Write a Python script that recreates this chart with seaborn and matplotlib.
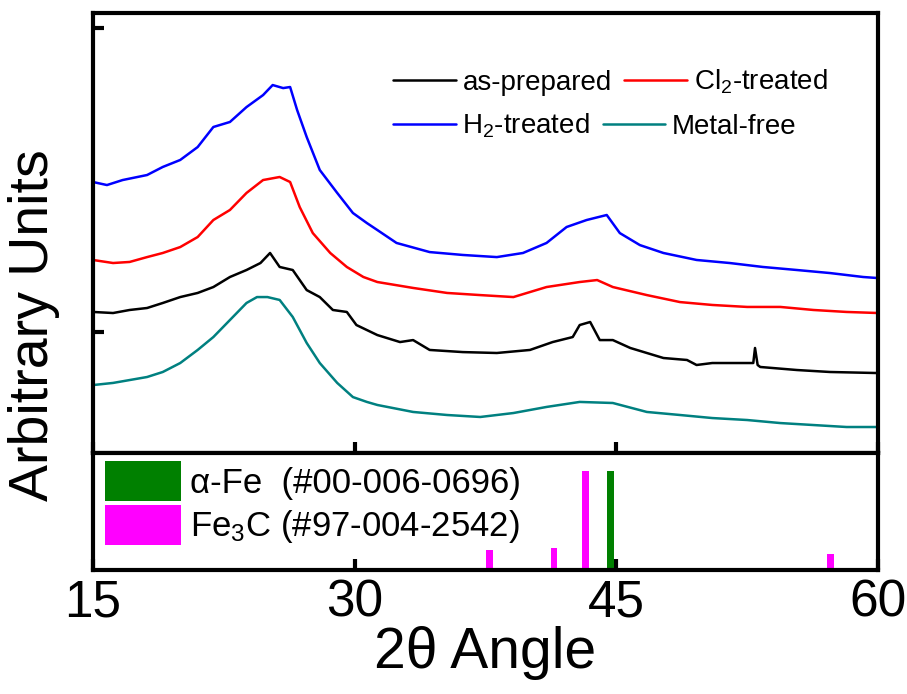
import matplotlib
matplotlib.use("Agg")
import numpy as np
import pandas as pd
import matplotlib.pyplot as plt
import seaborn as sns
from matplotlib.lines import Line2D
from matplotlib.patches import Patch

# ---------------- data ----------------
tt_as_prepared = [15.0, 16.15, 17.1, 18.1, 19.0, 20.0, 21.0, 21.9, 22.85, 23.8, 24.6, 25.15, 25.7,
                  26.45, 27.25, 28.0, 28.75, 29.55, 30.1, 30.7, 31.3, 32.6, 33.35, 34.3, 36.2,
                  38.15, 40.05, 41.35, 42.5, 42.9, 43.5, 44.05, 44.8, 45.8, 46.75, 47.7, 49.05,
                  49.6, 50.5, 52.1, 52.85, 52.95, 53.1, 53.25, 55.35, 57.25, 60.0]
int_as_prepared = [1132, 1125, 1145, 1158, 1191, 1230, 1257, 1296, 1362, 1408, 1454, 1520, 1428,
                   1408, 1276, 1230, 1145, 1132, 1046, 1013, 980, 934, 947, 882, 868,
                   862, 882, 934, 967, 1046, 1066, 947, 947, 895, 862, 829, 816,
                   783, 796, 796, 796, 895, 783, 770, 750, 737, 730]

tt_cl2 = [15.0, 16.15, 17.1, 18.1, 19.0, 20.0, 21.0, 21.9, 22.85, 23.8, 24.75, 25.7, 26.3, 26.85,
          27.6, 28.6, 29.55, 30.5, 31.3, 33.35, 35.3, 37.2, 39.1, 41.0, 42.9, 43.9, 44.8, 46.75,
          48.65, 50.5, 52.5, 54.4, 56.3, 58.2, 60.0]
int_cl2 = [1474, 1454, 1461, 1493, 1520, 1559, 1625, 1737, 1803, 1915, 2000, 2020, 1987, 1822,
           1651, 1520, 1428, 1362, 1329, 1290, 1257, 1243, 1230, 1296, 1329, 1342, 1296, 1243,
           1197, 1178, 1165, 1165, 1145, 1132, 1125]

tt_h2 = [15.0, 15.8, 16.7, 18.1, 19.0, 20.0, 21.0, 21.9, 22.85, 23.8, 24.75, 25.3, 25.9, 26.3,
         26.7, 27.25, 28.0, 29.0, 29.9, 30.7, 31.3, 32.4, 34.3, 36.2, 38.15, 39.65, 41.0, 42.15,
         43.3, 44.45, 45.2, 46.35, 47.7, 49.6, 51.5, 53.4, 55.35, 57.25, 59.15, 60.0]
int_h2 = [1987, 1967, 2000, 2033, 2086, 2132, 2217, 2349, 2382, 2480, 2559, 2625, 2605, 2612,
          2461, 2283, 2066, 1915, 1783, 1717, 1671, 1586, 1526, 1507, 1493, 1520, 1586, 1691,
          1737, 1770, 1651, 1572, 1520, 1474, 1454, 1428, 1408, 1388, 1362, 1355]

tt_metal_free = [15.0, 16.15, 18.1, 19.0, 20.0, 21.0, 21.9, 22.85, 23.8, 24.4, 25.0, 25.7, 26.45,
                 27.25, 28.0, 29.0, 29.9, 30.7, 31.3, 33.35, 35.3, 37.2, 39.1, 41.0, 42.9, 44.8,
                 46.75, 48.65, 50.5, 52.5, 54.4, 56.3, 58.2, 60.0]
int_metal_free = [651, 665, 704, 737, 796, 882, 967, 1079, 1191, 1230, 1230, 1211, 1099,
                  928, 796, 665, 572, 540, 520, 474, 454, 441, 467, 507, 540, 533,
                  474, 454, 434, 421, 401, 388, 375, 375]

sample_names = ["as-prepared", "Cl$_2$-treated", "H$_2$-treated", "Metal-free"]
sample_colors = ["#000000", "#FF0000", "#0000FF", "#008080"]

fe_positions = [44.68]
fe_intensity = [100]
fe3c_positions = [29.73, 37.72, 41.43, 43.24, 57.29]
fe3c_intensity = [2, 20, 22, 100, 16]
ref_labels = ["\u03b1-Fe  (#00-006-0696)", "Fe$_3$C (#97-004-2542)"]
ref_colors = ["#008000", "#FF00FF"]

x_ticks = [15, 30, 45, 60]

# ---------------- style ----------------
sns.set_theme(style="ticks")
plt.rcParams["font.family"] = ["Liberation Sans", "DejaVu Sans"]
plt.rcParams["text.color"] = "black"
plt.rcParams["axes.labelcolor"] = "black"
plt.rcParams["xtick.color"] = "black"
plt.rcParams["ytick.color"] = "black"
plt.rcParams["axes.edgecolor"] = "black"
plt.rcParams["mathtext.fontset"] = "custom"
plt.rcParams["mathtext.rm"] = "Liberation Sans"
plt.rcParams["mathtext.it"] = "Liberation Sans:italic"
plt.rcParams["mathtext.bf"] = "Liberation Sans:bold"

W, H = 907, 694
fig = plt.figure(figsize=(W / 100, H / 100), dpi=100)
fig.patch.set_facecolor("white")

def fx(px):
    return px / W

def fy(py):
    return (H - py) / H

ax_top = fig.add_axes([fx(93), fy(453), fx(878) - fx(93), fy(13) - fy(453)])
ax_bot = fig.add_axes([fx(93), fy(570), fx(878) - fx(93), fy(453) - fy(570)], sharex=ax_top)

# ---------------- top panel: XRD patterns ----------------
frames = []
for name, tt, it in [(sample_names[0], tt_as_prepared, int_as_prepared),
                     (sample_names[1], tt_cl2, int_cl2),
                     (sample_names[2], tt_h2, int_h2),
                     (sample_names[3], tt_metal_free, int_metal_free)]:
    frames.append(pd.DataFrame({"two_theta": tt, "intensity": it, "sample": name}))
df = pd.concat(frames, ignore_index=True)

sns.lineplot(data=df, x="two_theta", y="intensity", hue="sample",
             hue_order=sample_names, palette=sample_colors, estimator=None,
             sort=False, linewidth=1.8, legend=False, ax=ax_top)

ax_top.set_xlim(15, 60)
ax_top.set_ylim(204, 3099)
ax_top.set_yticks([1000, 3000])
ax_top.set_xticks([30, 45])
ax_top.tick_params(axis="both", direction="in", length=8, width=3, color="black",
                   labelleft=False, labelbottom=False)
ax_top.set_xlabel("")
ax_top.set_ylabel("")

handles = [Line2D([0], [0], color=c, lw=1.8) for c in sample_colors]
leg_kw = dict(frameon=False, ncol=2, fontsize=20, handlelength=2.25,
              handletextpad=0.25, columnspacing=0.45, borderpad=0, borderaxespad=0,
              loc="center left", labelcolor="black")
leg1 = ax_top.legend(handles[:2], sample_names[:2],
                     bbox_to_anchor=((393 - 93) / 785, (453 - 82) / 440), **leg_kw)
ax_top.add_artist(leg1)
leg2 = ax_top.legend(handles[2:], sample_names[2:],
                     bbox_to_anchor=((393 - 93) / 785, (453 - 126) / 440), **leg_kw)

# ---------------- bottom panel: reference sticks ----------------
ax_bot.bar(fe3c_positions, fe3c_intensity, width=0.38, color=ref_colors[1], linewidth=0)
ax_bot.bar(fe_positions, fe_intensity, width=0.38, color=ref_colors[0], linewidth=0)
ax_bot.set_ylim(0, 118)
ax_bot.set_yticks([])
ax_bot.set_xticks(x_ticks)
ax_bot.set_xticklabels([str(t) for t in x_ticks])
ax_bot.tick_params(axis="x", direction="in", length=8, width=3, color="black", pad=6,
                   labelsize=37, labelcolor="black")
ax_bot.set_xlabel("2\u03b8 Angle", fontsize=41, color="black")
ax_bot.xaxis.set_label_coords(0.5, (570 - 626) / 117)
ax_bot.set_ylabel("")

patches = [Patch(facecolor=c, edgecolor="none") for c in ref_colors]
ax_bot.legend(patches, ref_labels, loc="upper left",
              bbox_to_anchor=((105 - 93) / 785, (570 - 461) / 117),
              frameon=False, fontsize=25, labelcolor="black",
              handlelength=2.2, handleheight=1.40, handletextpad=0.25,
              labelspacing=0.1, borderpad=0, borderaxespad=0)

for a in (ax_top, ax_bot):
    for s in a.spines.values():
        s.set_visible(True)
        s.set_linewidth(3)
        s.set_color("black")
    a.set_facecolor("white")

fig.text(fx(34), fy(325), "Arbitrary Units", rotation=90, ha="center", va="center",
         fontsize=40, color="black")

fig.savefig("out.png", dpi=100, facecolor="white")
